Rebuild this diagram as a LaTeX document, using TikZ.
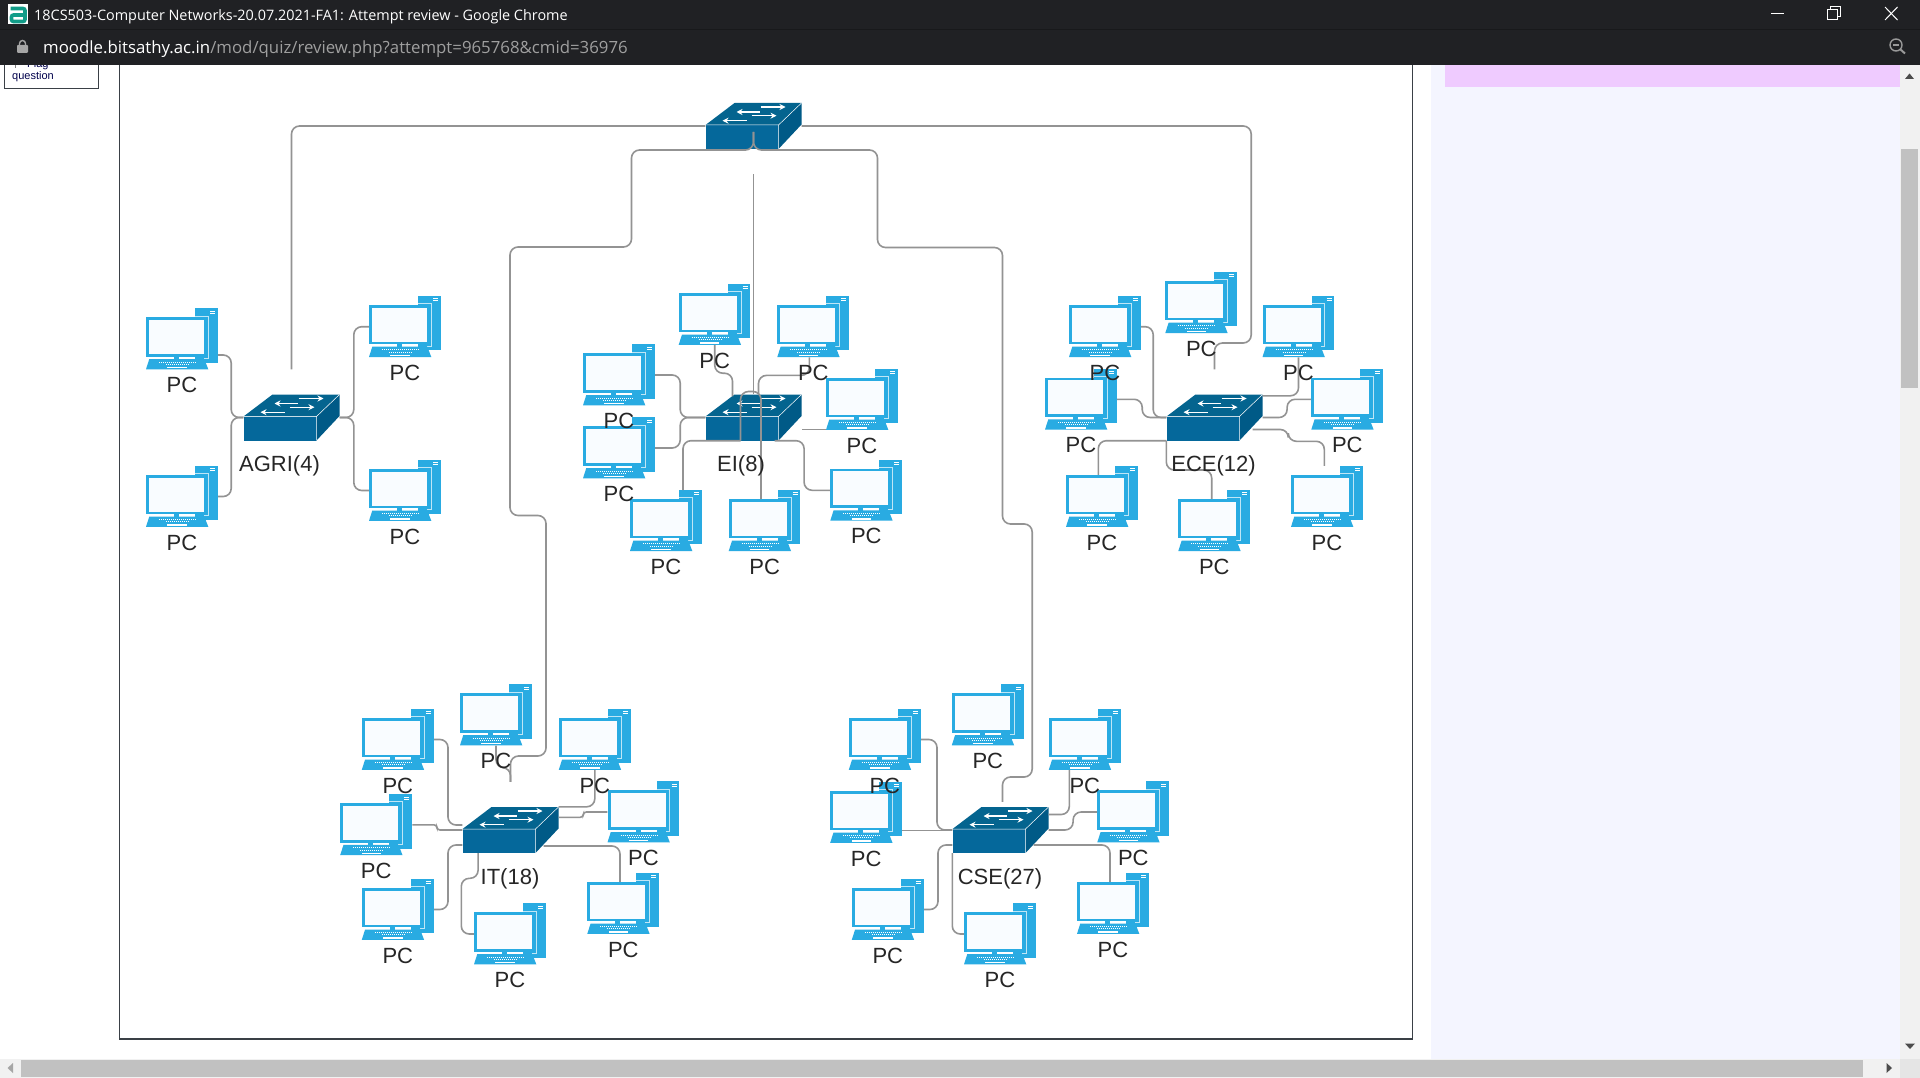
\documentclass[tikz,border=0pt]{standalone}
\usepackage{fontspec}
\setmainfont{Liberation Sans}
\newfontfamily\chromefont{Open Sans}
\usetikzlibrary{arrows.meta}
\definecolor{barcolor}{HTML}{202124}
\definecolor{pccolor}{HTML}{29ABE2}
\definecolor{screencolor}{HTML}{F9FCFF}
\definecolor{swtop}{HTML}{04648F}
\definecolor{swfront}{HTML}{05689B}
\definecolor{swside}{HTML}{005A87}
\definecolor{linkcolor}{HTML}{939393}
\definecolor{panelcolor}{HTML}{F4F5FF}
\definecolor{pinkcolor}{HTML}{EFCBFF}
\definecolor{thumbcolor}{HTML}{C1C1C1}
\definecolor{trackcolor}{HTML}{F1F1F1}
\definecolor{framecolor}{HTML}{3A4046}
\definecolor{tealcolor}{HTML}{119C88}
\tikzset{
  pcbox/.style={minimum width=72pt, minimum height=61pt, inner sep=0pt},
  swbox/.style={minimum width=96pt, minimum height=46pt, inner sep=0pt},
  pclabel/.style={font=\fontsize{22}{22}\selectfont, text=black!85, inner sep=0pt, text height=15.8pt, text depth=0pt},
  link/.style={linkcolor, line width=1.6pt, rounded corners=8pt},
  pcicon/.pic={
    \fill[pccolor] (13,-30.7) rectangle (35.7,23.7);
    \draw[white!70!pccolor, line width=0.6pt] (13,-23.2) -- (26.2,-23.2) -- (26.2,19.2) -- (22,19.2);
    \fill[pccolor] (-36,-21.7) rectangle (24.7,17.7);
    \fill[screencolor] (-33,-19) rectangle (22,15);
    \draw[white, line width=0.6pt] (28,-28) -- (33,-28) (28,-26) -- (33,-26);
    \fill[pccolor] (-8,17.7) rectangle (-3,20.5);
    \fill[pccolor] (-32.7,20) -- (22.3,20) -- (26.3,30.3) -- (-36,30.3) -- cycle;
    \draw[white, line width=0.7pt, dash pattern=on 1pt off 1pt] (-23,23) -- (14,23) (-16,25.2) -- (8,25.2);
    \fill[white] (-14.7,27.8) rectangle (4.7,29.2);
  },
  swicon/.pic={
    \fill[swfront] (-48,-1) rectangle (25,23);
    \fill[swtop] (-48,-1) -- (-19,-23) -- (48,-23) -- (25,-1) -- cycle;
    \fill[swside] (25,-1) -- (48,-23) -- (48,-1.5) -- (25,23) -- cycle;
    \draw[white, line width=0.5pt] (-48,-1) -- (25,-1) -- (25,23) (25,-1) -- (48,-23);
    \draw[white, line width=1.2pt, -{Stealth[length=6pt,width=6pt]}] (7,-19) -- (32,-19);
    \draw[white, line width=1.2pt, -{Stealth[length=6pt,width=6pt]}] (6,-14) -- (-17,-14);
    \draw[white, line width=1.2pt, -{Stealth[length=6pt,width=6pt]}] (-2,-10.3) -- (23,-10.3);
    \draw[white, line width=1.2pt, -{Stealth[length=6pt,width=6pt]}] (-7,-5.3) -- (-31,-5.3);
  }
}
\def\pclist{ag1/182/339, ag2/405/326.7, ag3/182/496.5, ag4/405/490.5,
  ei1/714.7/314.5, ei2/813.3/326.7, ei3/862/399.5, ei4/866.3/490.3,
  ei5/764.7/520.7, ei6/666/520.7, ei7/619/448, ei8/619/375,
  ec1/1201.3/302.7, ec2/1105/326.7, ec3/1298.5/326.7, ec4/1347.3/399.3,
  ec5/1081/399.3, ec6/1102/496.5, ec7/1214.3/520.7, ec8/1327/496.5,
  it1/496/715, it2/397.8/739.5, it3/594.8/739.5, it4/643.5/812,
  it5/376.2/824.8, it6/397.8/909.5, it7/510/934, it8/623.3/903.5,
  cs1/987.8/715, cs2/884.8/739.5, cs3/1084.8/739.5, cs4/1133.3/812,
  cs5/866.2/812.5, cs6/887.8/909.5, cs7/1000/934, cs8/1113/903.5}
\begin{document}
\begin{tikzpicture}[x=1pt, y=-1pt]
  \useasboundingbox (0,0) rectangle (1920,1078);
  \fill[white] (0,0) rectangle (1920,1078);
  % Page panels
  \fill[panelcolor] (1431,65) rectangle (1899.5,1059);
  \fill[pinkcolor] (1445,65) rectangle (1899.5,87);
  \draw[framecolor, line width=1.1pt] (119.5,55) rectangle (1412.5,1039);
  \draw[framecolor, line width=1pt] (4.5,55) rectangle (98.5,89);
  \draw[gray, line width=0.8pt] (15,62) -- (15,68);
  \node[font=\fontsize{11}{11}\selectfont, text=blue!30!black, anchor=west, inner sep=0pt] (flagtext) at (27,64.5) {Flag};
  \node[font=\fontsize{11}{11}\selectfont, text=blue!30!black, anchor=west, inner sep=0pt] (questiontext) at (12,77) {question};
  % Window bars
  \fill[barcolor] (0,0) rectangle (1920,65);
  \draw[black!25!barcolor, line width=0.5pt] (0,29) -- (1920,29);
  \fill[white] (8,4) rectangle (28,24);
  \draw[tealcolor, line width=3.6pt, rounded corners=2pt]
    (10.5,8.5) -- (25,8.5) -- (25,21.5) -- (11.5,21.5) -- (11.5,15) -- (25,15);
  \node[font=\chromefont\fontsize{14.4}{14.4}\selectfont, text=white, anchor=west, inner sep=0pt] (titletext) at (34,16.5) {18CS503-Computer Networks-20.07.2021-FA1: Attempt review - Google Chrome};
  \fill[gray!70, rounded corners=1pt] (17,45) rectangle (28,53);
  \draw[gray!70, line width=1.4pt] (19.5,45) -- (19.5,43.5) arc[start angle=180, end angle=0, x radius=3, y radius=-3] -- (25.5,45);
  \node[font=\chromefont\fontsize{16.8}{16.8}\selectfont, text=white, anchor=base west, inner sep=0pt] (urltext) at (43,53.5) {moodle.bitsathy.ac.in\textcolor{gray!75}{/mod/quiz/review.php?attempt=965768\&cmid=36976}};
  \draw[white, line width=1pt] (1771,13.5) -- (1784,13.5);
  \draw[white, line width=1pt] (1827.5,9.5) rectangle (1837.5,19.5);
  \draw[white, line width=1pt] (1830,9.5) -- (1830,7) -- (1840,7) -- (1840,17) -- (1837.5,17);
  \draw[white, line width=1pt] (1885,7) -- (1897.5,20) (1897.5,7) -- (1885,20);
  \draw[gray!80, line width=1.4pt] (1896,45) circle (6);
  \draw[gray!80, line width=2pt] (1900.5,49.5) -- (1905,53.5);
  \draw[gray!80, line width=1.4pt] (1893,45) -- (1899,45);
  % Scroll bars
  \fill[trackcolor] (1899.5,65) rectangle (1920,1059);
  \fill[thumbcolor] (1901,149) rectangle (1918,388);
  \fill[black!70] (1905,79) -- (1914,79) -- (1909.5,73.5) -- cycle;
  \fill[black!70] (1905,1043.5) -- (1915,1043.5) -- (1910,1049) -- cycle;
  \fill[trackcolor] (0,1059) rectangle (1899.5,1078);
  \fill[black!10] (1899.5,1059) rectangle (1920,1078);
  \fill[thumbcolor] (21,1060) rectangle (1863,1077);
  \fill[black!35] (13,1063) -- (13,1073) -- (7.5,1068) -- cycle;
  \fill[black!70] (1886.5,1063) -- (1886.5,1073) -- (1892,1068) -- cycle;
  % PC icons
  \foreach \nm/\xx/\yy in \pclist {
    \node[pcbox] (\nm) at (\xx,\yy) {};
    \pic at (\nm) {pcicon};
  }
  % Switches
  \foreach \nm/\xx/\yy in {core/753.5/126, agri/291.5/417.5, ei/753.5/417.5, ece/1214.5/417.5, it/510.5/830, cse/1000.5/830} {
    \node[swbox] (\nm) at (\xx,\yy) {};
    \pic at (\nm) {swicon};
  }
  % Uplinks
  \draw[link] ([yshift=25pt]agri.north) |- (core.west);
  \draw[link] (core.east) -- ++(449.5,0) -- ++(0,217) -| ([yshift=25pt]ece.north);
  \draw[link] ([yshift=-25pt]core.south) -- (ei.north);
  \draw[link] ([yshift=-6pt]core.center) |- ++(-122,18) -- ++(0,97) -- ++(-121.5,0)
    -- ++(0,268.5) -- ++(36,0) -- ++(0,240.5) -| ([yshift=25pt]it.north);
  \draw[link] ([yshift=-6pt]core.center) |- ++(124,18) -- ++(0,97.5) -- ++(125,0)
    -- ++(0,276.5) -- ++(29.7,0) -- ++(0,253) -| ([xshift=2pt,yshift=5pt]cse.north);
  % AGRI links
  \draw[link] ([yshift=-16pt]ag1.east) -- ++(13,0) |- (agri.west);
  \draw[link] (ag3.east) -- ++(13,0) |- (agri.west);
  \draw[link] (ag2.west) -- ++(-15,0) |- (agri.east);
  \draw[link] (ag4.west) -- ++(-15,0) |- (agri.east);
  % EI links
  \draw[link] (ei1.south) -- ++(0,28) -| ([xshift=-21pt,yshift=-2pt]ei.north);
  \draw[link] ([xshift=-4pt]ei2.south) -- ++(0,18) -| ([xshift=5pt]ei.north);
  \draw[link] ([yshift=-30pt]ei3.west) -- ([yshift=-12pt]ei.east);
  \draw[link] (ei4.west) -- ++(-26,0) |- ([xshift=21pt]ei.south);
  \draw[link] ([xshift=-3.7pt,yshift=-9pt]ei5.north) -- ++(0,-107.5) -| ([xshift=-13pt]ei.south);
  \draw[link] ([xshift=17pt]ei6.north) |- ([xshift=-13pt]ei.south);
  \draw[link] (ei7.east) -- ++(25,0) |- (ei.west);
  \draw[link] (ei8.east) -- ++(25,0) |- (ei.west);
  % ECE links
  \draw[link] (ec2.east) -- ++(12,0) |- (ece.west);
  \draw[link] (ec5.east) -- ++(25,0) |- (ece.west);
  \draw[link] (ec3.south) |- ([yshift=-1.5pt]ece.north east);
  \draw[link] (ec4.west) -- ++(-24,0) |- (ece.east);
  \draw[link] ([xshift=-2.7pt]ec8.north) -- ++(0,-24.5) -- ++(-36,0) |- ([xshift=-10pt,yshift=-12pt]ece.east);
  \draw[link] ([xshift=-3.7pt,yshift=-9pt]ec6.north) |- (ece.south west);
  \draw[link] ([xshift=-2.6pt,yshift=-9pt]ec7.north) -- ++(0,-29) -| (ece.south west);
  % IT links
  \draw[link] (it2.east) -- ++(14,0) |- ([yshift=5pt]it.west);
  \draw[link, rounded corners=3pt] (it5.east) -- ++(24.5,0) |- (it.west);
  \draw[link] (it6.east) -- ++(14,0) |- ([yshift=-15pt]it.west);
  \draw[link] (it1.south) -- ++(0,22) -| ([yshift=25pt]it.north);
  \draw[link] (it3.south) |- (it.north east);
  \draw[link, rounded corners=3pt] (it4.west) -- ++(-24,0) |- ([yshift=12.7pt]it.east);
  \draw[link] ([xshift=-3.3pt,yshift=-9pt]it8.north) |- ([xshift=-15pt,yshift=-16pt]it.east);
  \draw[link] (it7.west) -- ++(-12.5,0) -- ++(0,-55.7) -| ([xshift=-32.4pt]it.south);
  % CSE links
  \draw[link] (cs2.east) -- ++(16,0) |- (cse.west);
  \draw[link] ([yshift=-18pt]cs5.east) -- ([yshift=-0.5pt]cse.west);
  \draw[link] (cs6.east) -- ++(14,0) |- ([yshift=-15pt]cse.west);
  \draw[link] (cs7.west) -| (cse.south west);
  \draw[link] ([xshift=-15.5pt]cs3.south) |- ([yshift=15.5pt]cse.east);
  \draw[link] (cs4.west) -- ++(-24,0) |- (cse.east);
  \draw[link] ([xshift=-3pt,yshift=-9pt]cs8.north) |- ([xshift=-15pt,yshift=-15pt]cse.east);
  % Labels
  \foreach \nm/\xx/\yy in \pclist {
    \node[pclabel] (\nm-text) at ([yshift=-45.6pt]\nm) {PC};
  }
  \node[pclabel] (agri-text) at (279.5,463.5) {AGRI(4)};
  \node[pclabel] (ei-text) at (741,463.5) {EI(8)};
  \node[pclabel] (ece-text) at (1213.5,463.5) {ECE(12)};
  \node[pclabel] (it-text) at (510,877) {IT(18)};
  \node[pclabel] (cse-text) at (1000,877) {CSE(27)};
\end{tikzpicture}
\end{document}
